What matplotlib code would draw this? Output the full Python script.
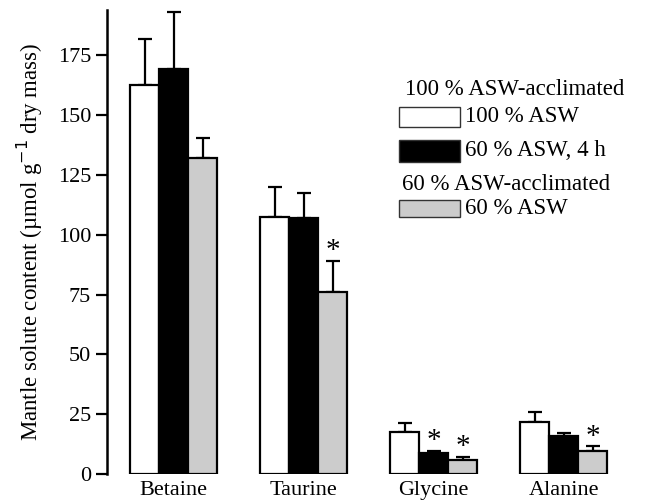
import numpy as np
import matplotlib.pyplot as plt
from matplotlib.patches import Rectangle

plt.rcParams['font.family'] = ['Liberation Serif', 'DejaVu Serif']

solutes = ["Betaine", "Taurine", "Glycine", "Alanine"]
acc100_100 = [162.7, 107.3, 17.5, 21.7]
acc100_100_err = [19.2, 12.6, 3.8, 4.2]
acc100_60 = [169.5, 106.9, 8.7, 15.7]
acc100_60_err = [23.7, 10.5, 1.0, 1.4]
acc60_60 = [132.1, 76.3, 5.9, 9.7]
acc60_60_err = [8.4, 12.9, 1.4, 1.8]
stars = [[False, False, True, False],   # black series
         [False, True, True, True]]     # gray series

series = [(acc100_100, acc100_100_err, "white"),
          (acc100_60, acc100_60_err, "black"),
          (acc60_60, acc60_60_err, "#cccccc")]

fig = plt.figure(figsize=(6.48, 5.0), dpi=100)
ax = fig.add_axes([107/648, 26/500, 533/648, 464/500])

x = np.arange(len(solutes))
w = 0.223
for i, (vals, errs, col) in enumerate(series):
    pos = x + (i - 1) * w
    ax.bar(pos, vals, w, color=col, edgecolor="black", linewidth=1.6, zorder=2)
    ax.errorbar(pos, vals, yerr=[np.zeros(len(vals)), errs], fmt="none",
                ecolor="black", elinewidth=1.6, capsize=5, capthick=1.6, zorder=1)
    if i > 0:
        for j in range(len(vals)):
            if stars[i - 1][j]:
                ax.text(pos[j], vals[j] + errs[j] - 1.5, "*", ha="center",
                        va="bottom", fontsize=21)

ax.set_xlim(-0.512, 3.588)
ax.set_ylim(0, 194)
ax.set_yticks([0, 25, 50, 75, 100, 125, 150, 175])
ax.set_xticks(x)
ax.set_xticklabels(solutes)
ax.tick_params(axis="y", labelsize=16, width=1.6, length=8, direction="out")
ax.tick_params(axis="x", labelsize=16, length=0, pad=5)
for s in ["top", "right", "bottom"]:
    ax.spines[s].set_visible(False)
ax.spines["left"].set_linewidth(1.8)
ax.set_ylabel("Mantle solute content (µmol g$^{-1}$ dry mass)", fontsize=16.5, labelpad=9)

# legend drawn by hand
def fx(px):
    return px / 648

def fy(py):
    return 1 - py / 500

legend_items = [("100 % ASW", "white", 107, 127),
                ("60 % ASW, 4 h", "black", 140, 162),
                ("60 % ASW", "#cccccc", 200, 217)]
for label, col, y0, y1 in legend_items:
    fig.add_artist(Rectangle((fx(399), fy(y1)), fx(460) - fx(399), fy(y0) - fy(y1),
                             facecolor=col, edgecolor="#333333", linewidth=1.0,
                             transform=fig.transFigure))
    fig.text(fx(465), fy((y0 + y1) / 2), label, fontsize=16.5, va="center", ha="left")
fig.text(fx(405), fy(90), "100 % ASW-acclimated", fontsize=16.5, va="center", ha="left")
fig.text(fx(402), fy(185), "60 % ASW-acclimated", fontsize=16.5, va="center", ha="left")

fig.savefig("out.png", dpi=100)
